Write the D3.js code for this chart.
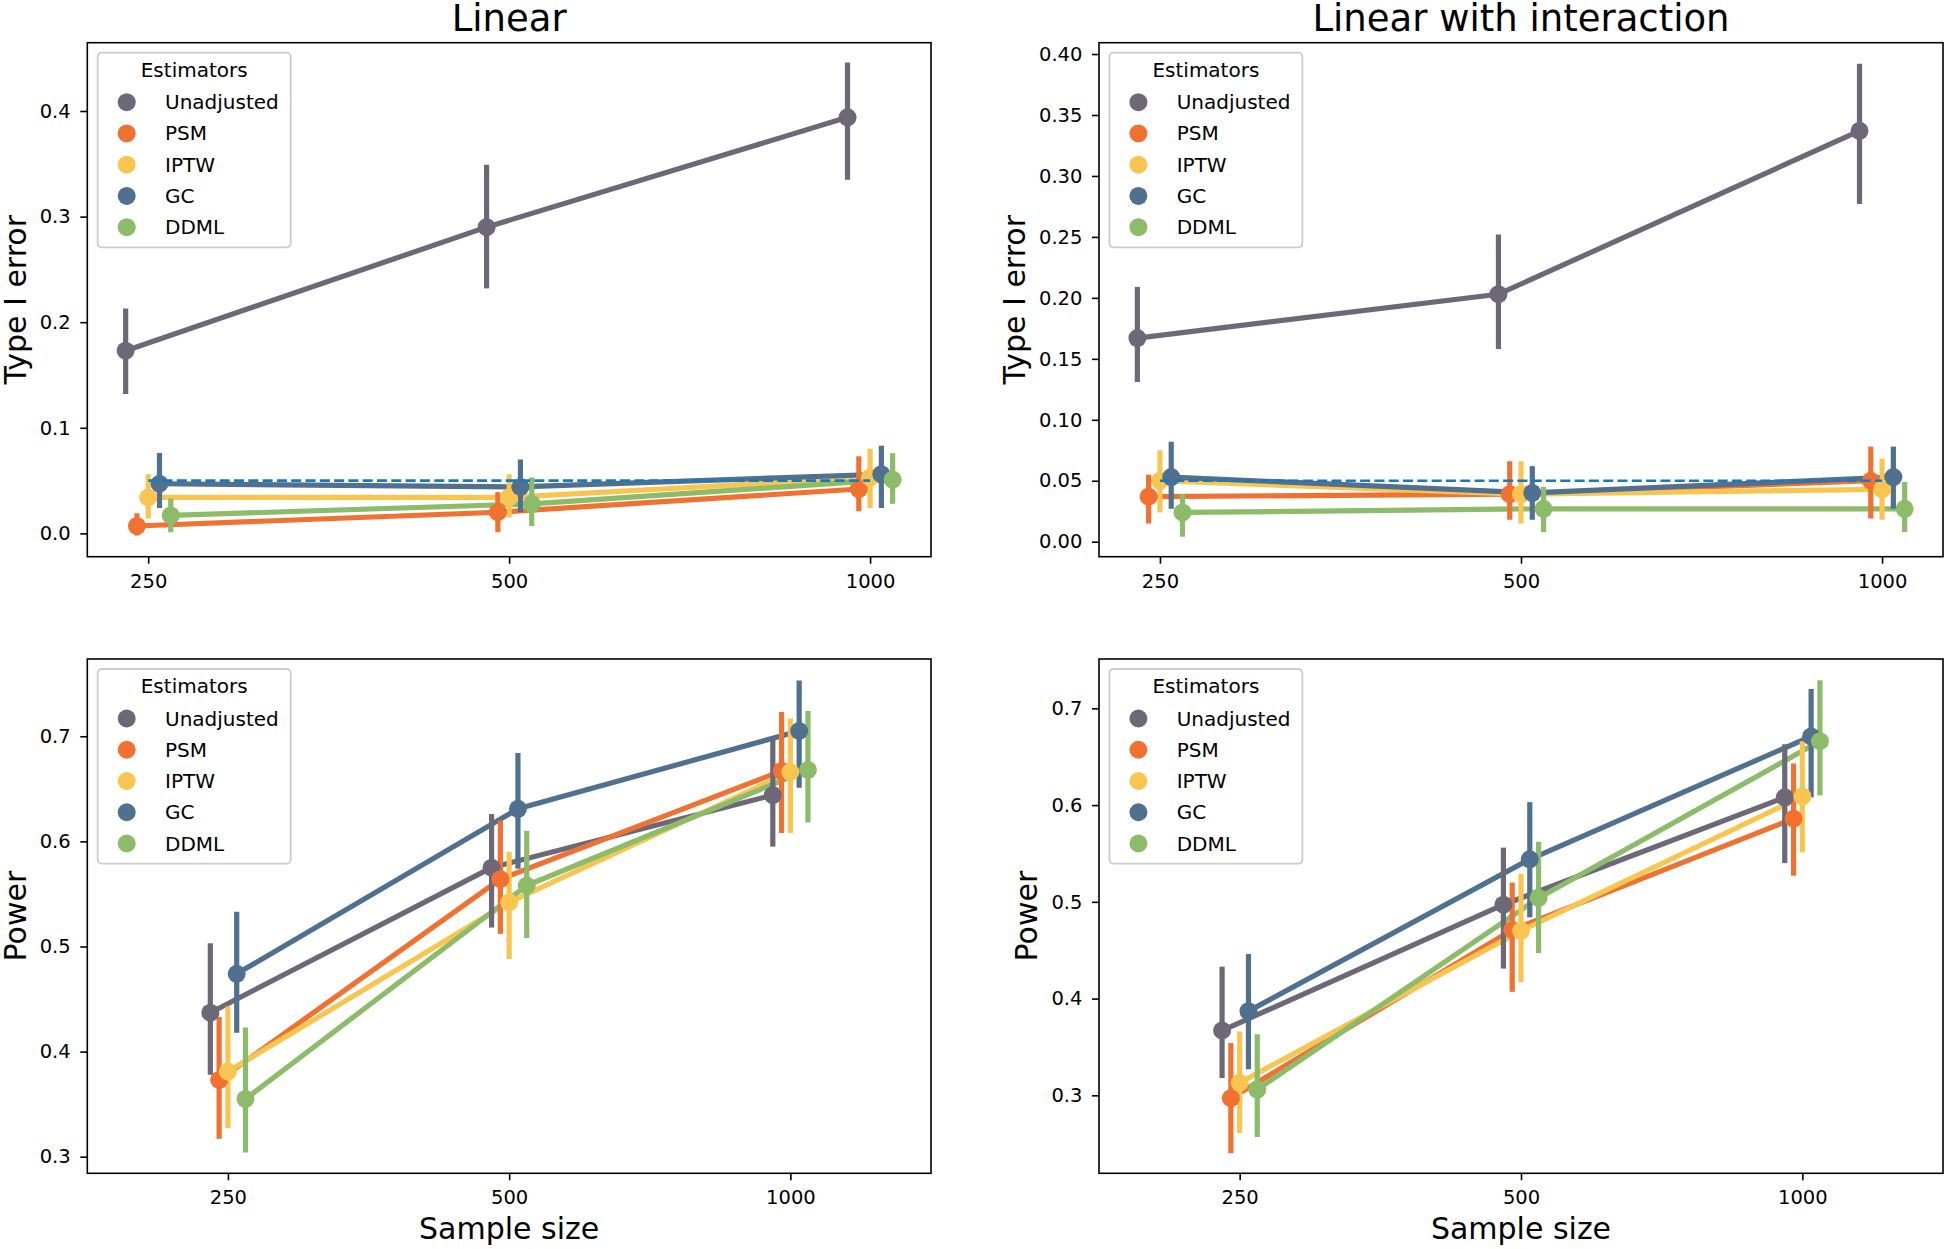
<!DOCTYPE html>
<html><head><meta charset="utf-8">
<script src="https://cdn.jsdelivr.net/npm/d3@7"></script>
<style>
body{margin:0;background:#fff;}
svg{display:block;}
text{font-family:"DejaVu Sans",sans-serif;fill:#000;}
</style>
</head><body>
<svg id="chart" width="1946" height="1249"></svg>
<script>
// ---------- data ----------
const sampleSizes = ["250", "500", "1000"];
const estimators = ["Unadjusted", "PSM", "IPTW", "GC", "DDML"];
const estimatorColors = ["#6c6878", "#f07130", "#f8c650", "#50708f", "#8cbc6a"];

// Linear, Type I error (rows = estimators, cols = sample sizes)
const linType1Mean = [[0.173,0.290,0.394],[0.007,0.020,0.042],[0.034,0.034,0.053],[0.047,0.044,0.056],[0.017,0.028,0.051]];
const linType1Lo   = [[0.132,0.232,0.335],[-0.002,0.001,0.021],[0.014,0.015,0.024],[0.024,0.020,0.024],[0.001,0.007,0.028]];
const linType1Hi   = [[0.213,0.349,0.446],[0.019,0.039,0.073],[0.056,0.056,0.080],[0.076,0.070,0.083],[0.033,0.053,0.076]];

// Linear with interaction, Type I error
const intType1Mean = [[0.167,0.203,0.337],[0.037,0.039,0.050],[0.050,0.039,0.043],[0.053,0.040,0.053],[0.024,0.027,0.027]];
const intType1Lo   = [[0.131,0.158,0.277],[0.015,0.018,0.019],[0.024,0.015,0.018],[0.027,0.018,0.027],[0.004,0.008,0.008]];
const intType1Hi   = [[0.209,0.252,0.392],[0.055,0.066,0.078],[0.075,0.066,0.068],[0.082,0.062,0.078],[0.039,0.045,0.049]];

// Linear, Power
const linPowerMean = [[0.437,0.575,0.644],[0.373,0.564,0.667],[0.381,0.542,0.666],[0.474,0.631,0.705],[0.355,0.558,0.668]];
const linPowerLo   = [[0.378,0.518,0.595],[0.317,0.512,0.608],[0.327,0.488,0.608],[0.418,0.574,0.651],[0.304,0.508,0.618]];
const linPowerHi   = [[0.503,0.626,0.698],[0.433,0.620,0.723],[0.443,0.590,0.717],[0.533,0.684,0.753],[0.423,0.610,0.724]];

// Linear with interaction, Power
const intPowerMean = [[0.367,0.497,0.608],[0.297,0.471,0.586],[0.313,0.470,0.609],[0.387,0.544,0.671],[0.306,0.504,0.666]];
const intPowerLo   = [[0.318,0.431,0.540],[0.240,0.407,0.527],[0.261,0.417,0.551],[0.327,0.484,0.608],[0.257,0.447,0.610]];
const intPowerHi   = [[0.433,0.556,0.663],[0.354,0.520,0.643],[0.366,0.529,0.666],[0.446,0.603,0.720],[0.363,0.562,0.729]];

// tick labels
const linType1Ticks = [0.0, 0.1, 0.2, 0.3, 0.4];
const intType1Ticks = [0.00, 0.05, 0.10, 0.15, 0.20, 0.25, 0.30, 0.35, 0.40];
const powerTicks = [0.3, 0.4, 0.5, 0.6, 0.7];
const nominalLevel = 0.05;

// ---------- layout ----------
const colX = [[87.3, 931], [1099, 1943]];
const rowY = [[42.7, 556.7], [659, 1173.3]];
const dodge = 0.125;

const panels = [
  {title:"Linear", ylabel:"Type I error", mean:linType1Mean, lo:linType1Lo, hi:linType1Hi, col:0, row:0,
   yDomain:[-0.0221, 0.4647], ticks:linType1Ticks, fmt:".1f", xDomain:[-0.16875, 2.16875], ref:true},
  {title:"Linear with interaction", ylabel:"Type I error", mean:intType1Mean, lo:intType1Lo, hi:intType1Hi, col:1, row:0,
   yDomain:[-0.0123, 0.4093], ticks:intType1Ticks, fmt:".2f", xDomain:[-0.16875, 2.16875], ref:true},
  {title:null, ylabel:"Power", mean:linPowerMean, lo:linPowerLo, hi:linPowerHi, col:0, row:1,
   yDomain:[0.2842, 0.7735], ticks:powerTicks, fmt:".1f", xDomain:[-0.5, 2.5], ref:false, xlabel:"Sample size"},
  {title:null, ylabel:"Power", mean:intPowerMean, lo:intPowerLo, hi:intPowerHi, col:1, row:1,
   yDomain:[0.2194, 0.751], ticks:powerTicks, fmt:".1f", xDomain:[-0.5, 2.5], ref:false, xlabel:"Sample size"}
];

const svg = d3.select("#chart");
svg.append("rect").attr("width",1946).attr("height",1249).attr("fill","#fff");

const LW = 5.2, R = 9, TICKFS = 19.5;

panels.forEach(p => {
  const [x0, x1] = colX[p.col];
  const [y0, y1] = rowY[p.row];
  const x = d3.scaleLinear().domain(p.xDomain).range([x0, x1]);
  const y = d3.scaleLinear().domain(p.yDomain).range([y1, y0]);
  const g = svg.append("g");
  const off = j => -dodge / 2 + j * dodge / (estimators.length - 1);

  const clipId = "clip" + p.col + p.row;
  g.append("clipPath").attr("id", clipId).append("rect")
    .attr("x", x0).attr("y", y0).attr("width", x1 - x0).attr("height", y1 - y0);
  const plot = g.append("g").attr("clip-path", `url(#${clipId})`);

  // lines
  estimators.forEach((e, j) => {
    const pts = p.mean[j].map((v, i) => [x(i + off(j)), y(v)]);
    plot.append("path").attr("d", d3.line()(pts)).attr("fill", "none")
      .attr("stroke", estimatorColors[j]).attr("stroke-width", LW).attr("stroke-linejoin", "round");
  });
  // error bars
  estimators.forEach((e, j) => {
    p.mean[j].forEach((v, i) => {
      plot.append("line").attr("x1", x(i + off(j))).attr("x2", x(i + off(j)))
        .attr("y1", y(p.lo[j][i])).attr("y2", y(p.hi[j][i]))
        .attr("stroke", estimatorColors[j]).attr("stroke-width", LW);
    });
  });
  // points
  estimators.forEach((e, j) => {
    p.mean[j].forEach((v, i) => {
      plot.append("circle").attr("cx", x(i + off(j))).attr("cy", y(v)).attr("r", R)
        .attr("fill", estimatorColors[j]);
    });
  });
  // reference line at nominal level
  if (p.ref) {
    plot.append("line").attr("x1", x(0)).attr("x2", x(2))
      .attr("y1", y(nominalLevel)).attr("y2", y(nominalLevel))
      .attr("stroke", "#1f77b4").attr("stroke-width", 2.7).attr("stroke-dasharray", "10,4.3");
  }

  // axes
  const ya = g.append("g").attr("transform", `translate(${x0},0)`)
    .call(d3.axisLeft(y).tickValues(p.ticks).tickFormat(d3.format(p.fmt)).tickSize(7).tickPadding(9.6));
  const xa = g.append("g").attr("transform", `translate(0,${y1})`)
    .call(d3.axisBottom(x).tickValues([0, 1, 2]).tickFormat(i => sampleSizes[i]).tickSize(7).tickPadding(10));
  [ya, xa].forEach(a => {
    a.select(".domain").remove();
    a.attr("font-family", null).attr("font-size", null);
    a.selectAll("line").attr("stroke", "#000").attr("stroke-width", 1.6);
    a.selectAll("text").attr("font-size", TICKFS).attr("fill", "#000");
  });

  // frame
  g.append("rect").attr("x", x0).attr("y", y0).attr("width", x1 - x0).attr("height", y1 - y0)
    .attr("fill", "none").attr("stroke", "#000").attr("stroke-width", 1.6);

  // ylabel
  let maxW = 0;
  ya.selectAll("text").each(function(){ maxW = Math.max(maxW, this.getComputedTextLength()); });
  const lx = x0 - 7 - 9.6 - maxW - 14;
  g.append("text").attr("transform", `translate(${lx},${(y0 + y1) / 2}) rotate(-90)`)
    .attr("text-anchor", "middle").attr("font-size", 30).text(p.ylabel);

  if (p.title) {
    g.append("text").attr("x", (x0 + x1) / 2).attr("y", y0 - 12)
      .attr("text-anchor", "middle").attr("font-size", 37).text(p.title);
  }
  if (p.xlabel) {
    g.append("text").attr("x", (x0 + x1) / 2).attr("y", y1 + 66)
      .attr("text-anchor", "middle").attr("font-size", 30).text(p.xlabel);
  }

  // legend
  const lg = g.append("g").attr("transform", `translate(${x0 + 10.4},${y0 + 10})`);
  lg.append("rect").attr("width", 193).attr("height", 194.6).attr("rx", 4)
    .attr("fill", "#fff").attr("fill-opacity", 0.8).attr("stroke", "#cccccc").attr("stroke-width", 1.8);
  lg.append("text").attr("x", 96.5).attr("y", 17).attr("dy", "0.35em")
    .attr("text-anchor", "middle").attr("font-size", 20).text("Estimators");
  estimators.forEach((e, j) => {
    const ry = 49.5 + j * 31.25;
    lg.append("circle").attr("cx", 29).attr("cy", ry).attr("r", R).attr("fill", estimatorColors[j]);
    lg.append("text").attr("x", 67.3).attr("y", ry).attr("dy", "0.35em").attr("font-size", 20).text(e);
  });
});
</script>
</body></html>
